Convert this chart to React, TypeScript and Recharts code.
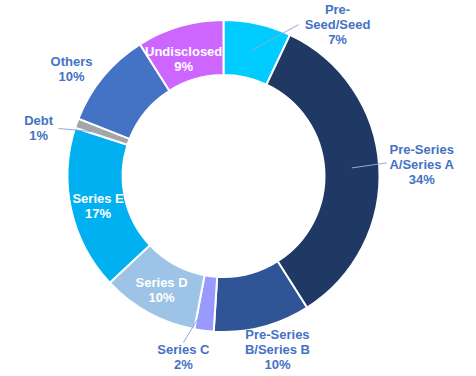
import { PieChart, Pie, Cell } from "recharts";

const stages = [
  "Pre-Seed/Seed",
  "Pre-Series A/Series A",
  "Pre-Series B/Series B",
  "Series C",
  "Series D",
  "Series E",
  "Debt",
  "Others",
  "Undisclosed",
];
const shares = [7, 34, 10, 2, 10, 17, 1, 10, 9];
const labelLines = [
  ["Pre-", "Seed/Seed"],
  ["Pre-Series", "A/Series A"],
  ["Pre-Series", "B/Series B"],
  ["Series C"],
  ["Series D"],
  ["Series E"],
  ["Debt"],
  ["Others"],
  ["Undisclosed"],
];

const colors = [
  "#00CCFF",
  "#1F3864",
  "#2F5597",
  "#9999FF",
  "#9DC3E6",
  "#00B0F0",
  "#A5A5A5",
  "#4472C4",
  "#CC66FF",
];

// label offsets from the slice's mid point; line = end of leader line
const labelLayout = [
  { dx: 86, dy: -26, line: [47, -26], inside: false },
  { dx: 70, dy: -3, line: [35, -5], inside: false },
  { dx: 22, dy: 49, line: null, inside: false },
  { dx: -24, dy: 54, line: [-24, 39], inside: false },
  { dx: 0, dy: 1, line: null, inside: true },
  { dx: 0, dy: 2, line: null, inside: true },
  { dx: -64, dy: -4, line: [-44, -4], inside: false },
  { dx: -53, dy: -25, line: null, inside: false },
  { dx: -4, dy: 6, line: null, inside: true },
];

const data = stages.map((name, i) => ({ name, value: shares[i] }));

const RAD = Math.PI / 180;

function renderLabel(props: any) {
  const { cx, cy, midAngle, innerRadius, outerRadius, index, value } = props;
  const r = (innerRadius + outerRadius) / 2;
  const ax = cx + r * Math.cos(-midAngle * RAD);
  const ay = cy + r * Math.sin(-midAngle * RAD);
  const lay = labelLayout[index];
  const lines = [...labelLines[index], `${value}%`];
  const lh = 15;
  const tx = ax + lay.dx;
  const top = ay + lay.dy - ((lines.length - 1) * lh) / 2;
  const fill = lay.inside ? "#FFFFFF" : "#4472C4";
  return (
    <g key={`lbl-${index}`}>
      {lay.line && (
        <line
          x1={ax}
          y1={ay}
          x2={ax + lay.line[0]}
          y2={ay + lay.line[1]}
          stroke="#8FAADC"
          strokeWidth={1}
        />
      )}
      {lines.map((t, j) => (
        <text
          key={j}
          x={tx}
          y={top + j * lh + 4.5}
          fill={fill}
          textAnchor="middle"
          fontFamily="'Liberation Sans', Arial, sans-serif"
          fontWeight={700}
          fontSize={13}
        >
          {t}
        </text>
      ))}
    </g>
  );
}

export default function App() {
  return (
    <div style={{ position: "fixed", left: 0, top: 0, background: "#fff" }}>
      <PieChart width={476} height={376} margin={{ top: 0, right: 0, bottom: 0, left: 0 }}>
        <Pie
          data={data}
          dataKey="value"
          nameKey="name"
          cx={223.5}
          cy={176}
          innerRadius={101}
          outerRadius={156}
          startAngle={90}
          endAngle={-270}
          stroke="#FFFFFF"
          strokeWidth={2}
          label={renderLabel}
          labelLine={false}
          isAnimationActive={false}
        >
          {data.map((d, i) => (
            <Cell key={d.name} fill={colors[i]} />
          ))}
        </Pie>
      </PieChart>
    </div>
  );
}
